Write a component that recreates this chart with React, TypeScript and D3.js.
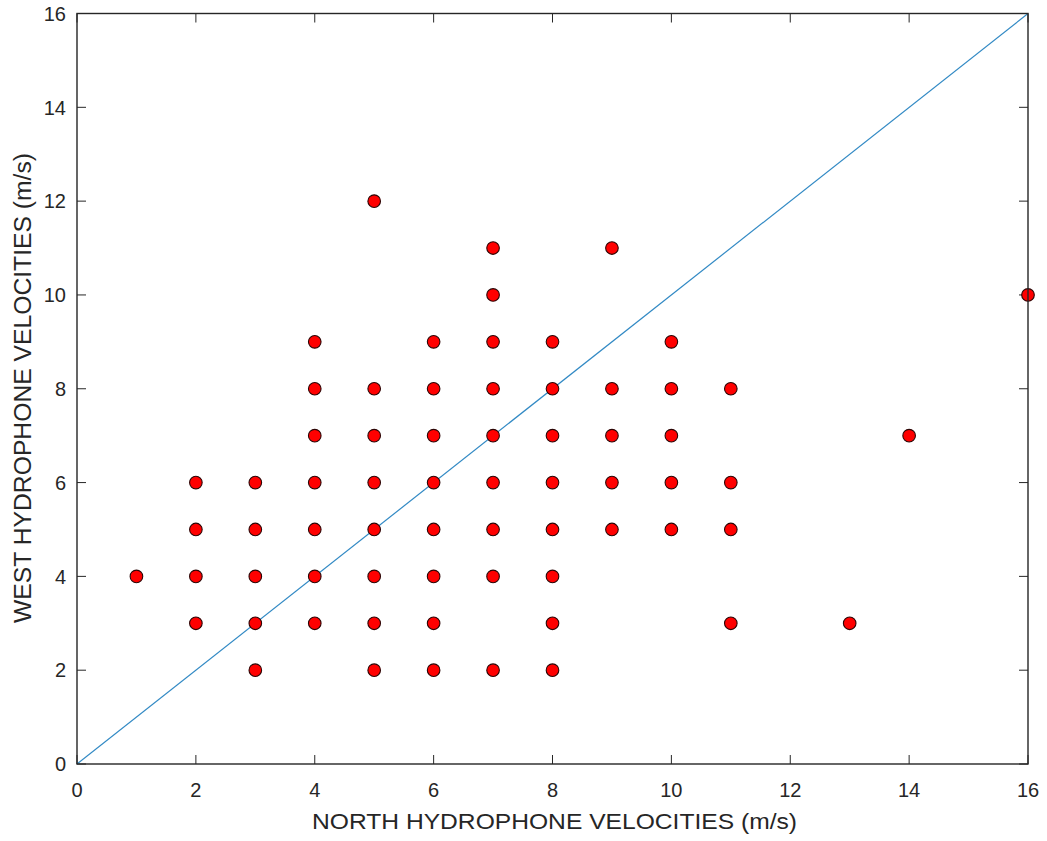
import React from "react";
import * as d3 from "d3";

// Paired velocity readings (m/s): north hydrophone vs west hydrophone
const northVel = [
  1,
  2, 2, 2, 2,
  3, 3, 3, 3, 3,
  4, 4, 4, 4, 4, 4, 4,
  5, 5, 5, 5, 5, 5, 5, 5,
  6, 6, 6, 6, 6, 6, 6, 6,
  7, 7, 7, 7, 7, 7, 7, 7, 7,
  8, 8, 8, 8, 8, 8, 8, 8,
  9, 9, 9, 9, 9,
  10, 10, 10, 10, 10,
  11, 11, 11, 11,
  13, 14, 16,
];
const westVel = [
  4,
  3, 4, 5, 6,
  2, 3, 4, 5, 6,
  3, 4, 5, 6, 7, 8, 9,
  2, 3, 4, 5, 6, 7, 8, 12,
  2, 3, 4, 5, 6, 7, 8, 9,
  2, 4, 5, 6, 7, 8, 9, 10, 11,
  2, 3, 4, 5, 6, 7, 8, 9,
  5, 6, 7, 8, 11,
  5, 6, 7, 8, 9,
  3, 5, 6, 8,
  3, 7, 10,
];
const tickValues = [0, 2, 4, 6, 8, 10, 12, 14, 16];
const identityLine = [0, 16];

const W = 1047;
const H = 841;
const left = 77;
const right = 1028;
const top = 13.5;
const bottom = 764;
const tickLen = 9;
const axisColor = "#262626";
const font = "'Liberation Sans', Arial, Helvetica, sans-serif";

export default function App() {
  const x = d3.scaleLinear().domain([0, 16]).range([left, right]);
  const y = d3.scaleLinear().domain([0, 16]).range([bottom, top]);
  const line = d3
    .line<number>()
    .x((d) => x(d))
    .y((d) => y(d));

  return (
    <svg
      width={W}
      height={H}
      style={{ position: "absolute", left: 0, top: 0, background: "#fff" }}
      fontFamily={font}
    >
      {/* ticks on all four sides, pointing inward */}
      {tickValues.map((t) => (
        <g key={"t" + t} stroke={axisColor} strokeWidth={1}>
          <line x1={x(t)} x2={x(t)} y1={bottom} y2={bottom - tickLen} />
          <line x1={x(t)} x2={x(t)} y1={top} y2={top + tickLen} />
          <line x1={left} x2={left + tickLen} y1={y(t)} y2={y(t)} />
          <line x1={right} x2={right - tickLen} y1={y(t)} y2={y(t)} />
        </g>
      ))}

      {/* reference line y = x */}
      <path d={line(identityLine) || ""} fill="none" stroke="#3189c4" strokeWidth={1.2} />

      {/* scatter points */}
      {northVel.map((n, i) => (
        <circle
          key={"p" + i}
          cx={x(n)}
          cy={y(westVel[i])}
          r={6.3}
          fill="#ff0000"
          stroke="#2a0505"
          strokeWidth={1.1}
        />
      ))}

      {/* axes box */}
      <rect
        x={left}
        y={top}
        width={right - left}
        height={bottom - top}
        fill="none"
        stroke={axisColor}
        strokeWidth={1.4}
      />

      {/* tick labels */}
      {tickValues.map((t) => (
        <text
          key={"xl" + t}
          x={x(t)}
          y={797}
          textAnchor="middle"
          fontSize={20}
          fill={axisColor}
        >
          {t}
        </text>
      ))}
      {tickValues.map((t) => (
        <text
          key={"yl" + t}
          x={66}
          y={y(t) + 7.3}
          textAnchor="end"
          fontSize={20}
          fill={axisColor}
        >
          {t}
        </text>
      ))}

      {/* axis titles */}
      <text
        x={554.5}
        y={829}
        textAnchor="middle"
        fontSize={22.5}
        textLength={485}
        lengthAdjust="spacingAndGlyphs"
        fill={axisColor}
      >
        NORTH HYDROPHONE VELOCITIES (m/s)
      </text>
      <text
        transform={`translate(31, 388) rotate(-90)`}
        textAnchor="middle"
        fontSize={23}
        textLength={470}
        lengthAdjust="spacingAndGlyphs"
        fill={axisColor}
      >
        WEST HYDROPHONE VELOCITIES (m/s)
      </text>
    </svg>
  );
}
